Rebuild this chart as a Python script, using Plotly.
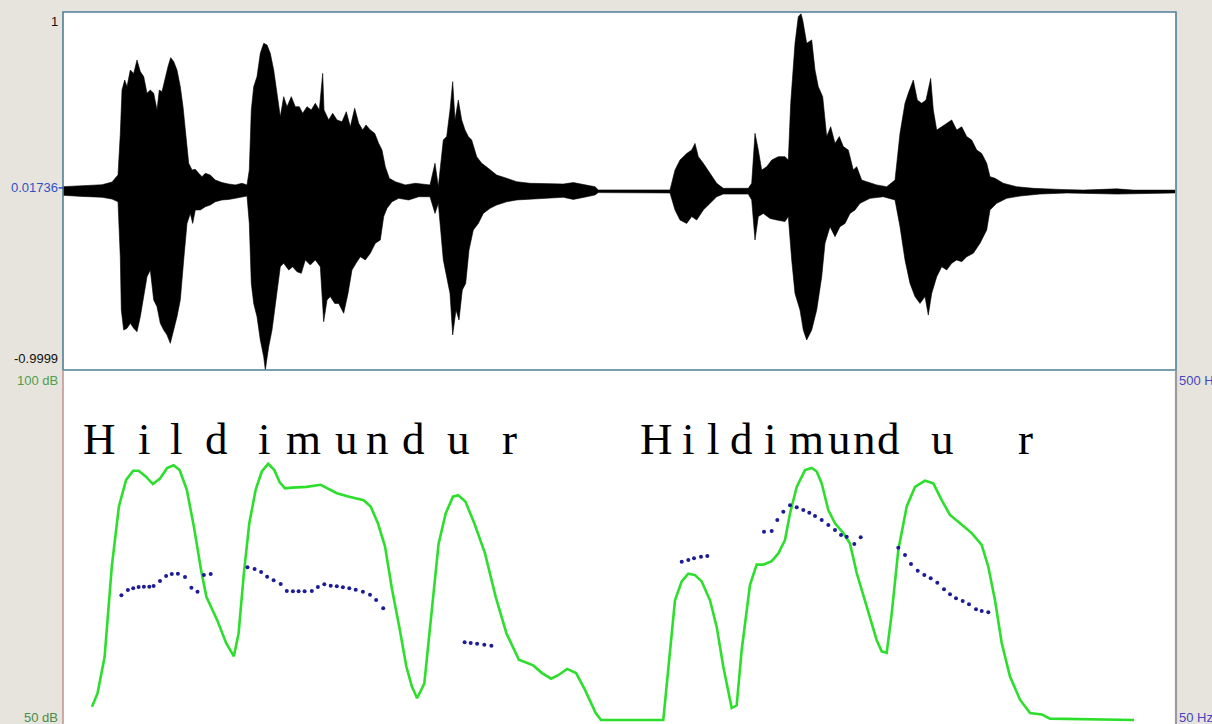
import plotly.graph_objects as go

# ---------------------------------------------------------------------------
# Waveform envelope (time in ms, amplitude in the displayed -0.9999 .. 1 range)
# ---------------------------------------------------------------------------
wave_up_t = [0, 20, 40, 50, 56, 58.3, 60, 62.7, 65, 68.3, 71.7, 75, 78.3, 81.7, 85, 88.3,
             91.7, 95, 97.3, 100, 103.3, 106, 108.7, 111.7, 115, 118.3, 121, 124, 126.7,
             130, 133.3, 136.7, 140, 143.3, 148.3, 153.3, 160, 166.7, 173.3, 180, 185,
             187.3, 189.3, 191.7, 195, 198.3, 201.7, 205, 208.3, 211.7, 215, 218.3, 221.7,
             225, 229.3, 233.3, 237.3, 240.7, 245, 249.3, 253.3, 257.3, 260.7, 262, 266.7,
             270.7, 275, 280, 284.3, 288.3, 292.7, 296.7, 300.7, 304, 308.3, 312.7, 316.7,
             320, 323.3, 327.3, 333.3, 343.3, 353.3, 363.3, 368, 373, 376.3, 381.3, 384.7,
             388, 390.7, 393, 396.3, 399.7, 403, 406.3, 409.7, 414.7, 419.7, 426.3, 434.7,
             444.7, 454.7, 468, 484.7, 501.3, 511.3, 524.7, 533, 536.3, 608, 613, 618,
             624.7, 629.7, 633, 636.3, 641.3, 648, 654.7, 661.3, 686.3, 689.7, 693, 696.3,
             699.7, 704.7, 709.7, 716.3, 723, 726.3, 728.7, 733, 736.3, 739, 740.7, 744.7,
             749.7, 753, 756.3, 760.7, 764.7, 768.7, 773, 777.3, 781.3, 786.3, 791.3, 794.7,
             799.7, 804.7, 814.7, 824.7, 833, 838, 843, 846.3, 851.3, 855.3, 859.7, 864,
             868.7, 871.3, 874.7, 879.7, 884.7, 889.7, 894.7, 899.7, 904.7, 909.7, 914.7,
             919.7, 924.7, 928, 933, 941.3, 954.7, 971.3, 998, 1021.3, 1054.7, 1071.3, 1113]
wave_up_a = [0.024, 0.030, 0.035, 0.050, 0.090, 0.320, 0.564, 0.620, 0.583, 0.676, 0.657,
             0.732, 0.667, 0.639, 0.546, 0.564, 0.546, 0.452, 0.564, 0.555, 0.639, 0.695,
             0.745, 0.723, 0.676, 0.583, 0.471, 0.304, 0.155, 0.117, 0.121, 0.099, 0.080,
             0.099, 0.089, 0.061, 0.047, 0.039, 0.034, 0.043, 0.034, 0.117, 0.453, 0.583,
             0.639, 0.769, 0.825, 0.816, 0.769, 0.676, 0.546, 0.415, 0.527, 0.471, 0.527,
             0.471, 0.471, 0.434, 0.471, 0.453, 0.490, 0.453, 0.657, 0.453, 0.397, 0.434,
             0.397, 0.387, 0.443, 0.359, 0.462, 0.378, 0.341, 0.369, 0.341, 0.322, 0.266,
             0.229, 0.136, 0.071, 0.052, 0.034, 0.043, 0.034, 0.034, 0.155, 0.024, 0.285,
             0.304, 0.453, 0.611, 0.397, 0.508, 0.397, 0.341, 0.304, 0.285, 0.192, 0.155,
             0.127, 0.089, 0.071, 0.052, 0.043, 0.043, 0.039, 0.047, 0.034, 0.024, 0.006,
             0.006, 0.117, 0.173, 0.210, 0.229, 0.266, 0.192, 0.155, 0.099, 0.043, 0.015,
             0.015, 0.043, 0.322, 0.229, 0.117, 0.136, 0.173, 0.192, 0.192, 0.173, 0.490,
             0.825, 0.974, 0.990, 0.955, 0.825, 0.844, 0.676, 0.583, 0.527, 0.304, 0.359,
             0.266, 0.304, 0.248, 0.229, 0.117, 0.136, 0.061, 0.052, 0.034, 0.024, 0.061,
             0.322, 0.490, 0.546, 0.620, 0.508, 0.490, 0.508, 0.629, 0.453, 0.341, 0.359,
             0.378, 0.397, 0.341, 0.359, 0.304, 0.285, 0.229, 0.210, 0.155, 0.080, 0.071,
             0.043, 0.024, 0.015, 0.009, 0.005, 0.012, 0.005, 0.005]

wave_lo_t = [0, 20, 40, 50, 56, 58.3, 59.3, 61.7, 65, 68.3, 71.7, 75, 78.3, 81.7, 85, 88.3,
             91.7, 95, 98.3, 101.7, 105, 108.3, 111.7, 115, 118.3, 121.7, 125, 128.3, 130.7,
             133.3, 138.3, 143.3, 148.3, 153.3, 160, 166.7, 173.3, 180, 185, 187.3, 189.3,
             191.7, 195, 198.3, 201.7, 203.3, 206.7, 210, 213.3, 218.3, 221.7, 226.7, 230.7,
             235, 239.3, 243.3, 248.3, 253.3, 258.3, 261.7, 265, 268.3, 272.7, 276.7, 281.7,
             286, 290, 294, 298.3, 303.3, 308.3, 313.3, 318.3, 321.7, 325, 330, 336.7, 346.7,
             356.7, 368, 373, 376.3, 381.3, 384.7, 388, 390.7, 394, 397, 400.3, 403.7, 407,
             411.3, 416.3, 421.3, 428, 434.7, 444.7, 454.7, 468, 484.7, 501.3, 511.3, 524.7,
             533, 536.3, 608, 613, 618, 624.7, 629.7, 634.7, 641.3, 648, 654.7, 661.3, 686.3,
             689.7, 693, 696.3, 701.3, 708, 714.7, 723, 726.3, 729.7, 733, 738, 741.3, 744.7,
             749.7, 754.7, 759.7, 763, 768, 773, 778, 783, 788, 793, 798, 808, 821.3, 833,
             838, 843, 848, 853, 858, 863, 866.3, 869.7, 874.7, 879.7, 884.7, 889.7, 894.7,
             899.7, 904.7, 911.3, 918, 924.7, 928, 934.7, 944.7, 958, 978, 1004.7, 1054.7,
             1113]
wave_lo_a = [-0.024, -0.030, -0.035, -0.045, -0.060, -0.370, -0.665, -0.777, -0.767, -0.739,
             -0.767, -0.786, -0.702, -0.590, -0.479, -0.441, -0.609, -0.646, -0.739, -0.777,
             -0.804, -0.851, -0.777, -0.702, -0.609, -0.385, -0.181, -0.125, -0.181, -0.106,
             -0.106, -0.088, -0.078, -0.060, -0.050, -0.047, -0.041, -0.035, -0.028, -0.181,
             -0.516, -0.628, -0.702, -0.832, -0.926, -0.9999, -0.870, -0.777, -0.628, -0.423,
             -0.404, -0.441, -0.423, -0.451, -0.460, -0.385, -0.413, -0.385, -0.423, -0.730,
             -0.609, -0.590, -0.628, -0.628, -0.683, -0.572, -0.441, -0.404, -0.367, -0.385,
             -0.348, -0.292, -0.274, -0.143, -0.097, -0.060, -0.041, -0.050, -0.032, -0.032,
             -0.125, -0.069, -0.385, -0.479, -0.572, -0.804, -0.665, -0.721, -0.553, -0.516,
             -0.330, -0.218, -0.181, -0.125, -0.097, -0.078, -0.060, -0.050, -0.047, -0.041,
             -0.035, -0.047, -0.032, -0.022, -0.009, -0.011, -0.106, -0.162, -0.181, -0.143,
             -0.162, -0.106, -0.069, -0.032, -0.017, -0.017, -0.050, -0.274, -0.143, -0.125,
             -0.153, -0.162, -0.171, -0.143, -0.385, -0.572, -0.665, -0.777, -0.832, -0.777,
             -0.665, -0.479, -0.292, -0.199, -0.255, -0.199, -0.181, -0.125, -0.106, -0.069,
             -0.041, -0.032, -0.050, -0.199, -0.385, -0.516, -0.590, -0.628, -0.590, -0.693,
             -0.572, -0.479, -0.423, -0.441, -0.404, -0.385, -0.395, -0.367, -0.348, -0.292,
             -0.218, -0.106, -0.069, -0.041, -0.028, -0.017, -0.011, -0.017, -0.011]

# ---------------------------------------------------------------------------
# Intensity contour (dB)
# ---------------------------------------------------------------------------
intensity_t = [30, 35.5, 42.6, 49.8, 56.9, 64.1, 71.2, 76.6, 83.7, 90.9, 98, 105.1, 111.6,
               117.6, 124.8, 131.9, 139.1, 144.4, 155.1, 164.1, 171.9, 176.6, 181.9, 187.3,
               193.7, 199.8, 206.2, 212.3, 217.6, 223, 230.1, 244.4, 258.7, 265.9, 274.8,
               287.3, 301.6, 308.7, 315.9, 323, 330.1, 337.3, 344.4, 349.8, 355.1, 362.3,
               369.4, 376.6, 383.7, 390.9, 396.2, 403.4, 412.3, 423, 433.7, 444.4, 456.9,
               471.2, 480.1, 489.1, 496.2, 505.1, 514.1, 523, 533.7, 539, 601.3, 608, 613,
               619.7, 626.3, 633, 639.7, 648, 654.7, 661.3, 669.7, 674.7, 679.7, 688, 694.7,
               701.3, 709.7, 716.3, 723, 728, 734.7, 743, 749.7, 754.7, 759.7, 766.3, 773,
               781.3, 788, 794.7, 804.7, 814.7, 819.7, 824.7, 829.7, 836.3, 844.7, 853, 863,
               871.3, 879.7, 888, 898, 909.7, 919.7, 926.3, 933, 939.7, 948, 958, 968, 979.7,
               988, 1072]
intensity_db = [51.9, 53.8, 59.0, 71.9, 80.5, 84.3, 85.6, 85.6, 84.8, 83.7, 84.5, 86.0, 86.4,
                85.7, 82.9, 77.6, 71.4, 67.6, 64.3, 61.0, 59.1, 62.4, 71.0, 78.1, 82.9, 85.5,
                86.6, 85.7, 84.0, 83.1, 83.2, 83.3, 83.6, 83.1, 82.4, 81.9, 81.4, 80.5, 78.1,
                74.8, 68.6, 63.3, 57.6, 54.8, 53.1, 55.2, 64.8, 75.2, 79.5, 81.9, 82.1, 81.2,
                78.1, 73.8, 67.6, 62.4, 58.6, 57.8, 56.7, 55.9, 56.4, 57.3, 56.7, 54.3, 51.0,
                50.0, 50.0, 60.0, 67.1, 69.8, 70.9, 70.7, 69.8, 67.1, 63.3, 57.6, 51.7, 52.1,
                60.0, 69.3, 72.2, 72.2, 72.7, 73.8, 75.7, 79.5, 83.3, 85.7, 86.0, 85.5, 83.8,
                80.0, 78.1, 76.7, 75.2, 71.0, 66.2, 61.4, 59.8, 59.6, 65.2, 74.3, 80.5, 83.3,
                84.2, 83.8, 81.4, 79.3, 78.1, 76.7, 75.0, 71.9, 67.1, 61.0, 56.2, 52.9, 51.0,
                50.8, 50.2, 50.0]

# ---------------------------------------------------------------------------
# Pitch track (Hz)
# ---------------------------------------------------------------------------
pitch_t = [59.4, 65.9, 71.2, 76.6, 81.9, 87.3, 91.6, 98, 104.1, 109.8, 115.9, 123, 129.4,
           135.5, 141.9, 148.7,
           185.5, 192.6, 199.1, 205.1, 211.6, 218.7, 224.8, 230.9, 236.6, 242.6, 249.8,
           255.9, 262.3, 268.7, 274.8, 280.9, 287.3, 293.7, 300.9, 308, 314.1, 321.2,
           402.6, 408.7, 415.1, 422.3, 429.4,
           619.7, 626.3, 632, 639, 645.3,
           702, 709.7, 715.3, 721.3, 728, 734.7, 741.3, 747.3, 753, 759.7, 766.3, 773, 779,
           784.7, 792.3, 798.7,
           836.3, 843, 849, 855.7, 862.3, 868.7, 875.3, 882, 888, 894, 900.7, 907, 914,
           919.7, 926.3]
pitch_hz = [210.3, 217.1, 219.3, 221.0, 221.4, 221.4, 222.3, 228.7, 235.1, 237.7, 238.1,
            233.9, 220.1, 215.0, 236.4, 237.7,
            246.3, 244.1, 240.3, 234.2, 229.6, 224.9, 215.9, 215.5, 215.5, 215.5, 215.9,
            221.0, 224.5, 222.7, 221.9, 220.6, 219.3, 217.5, 215.0, 211.1, 204.3, 193.6,
            149.9, 149.0, 148.1, 146.8, 145.5,
            253.5, 255.7, 257.9, 259.9, 260.9,
            292.1, 293.0, 307.1, 317.8, 326.0, 323.5, 320.0, 316.5, 312.3, 307.1, 300.7,
            294.3, 287.9, 285.7, 276.3, 284.9,
            271.5, 262.1, 250.6, 242.0, 236.4, 232.2, 226.5, 218.0, 211.6, 206.4, 203.0,
            198.8, 192.3, 190.1, 188.4]

# ---------------------------------------------------------------------------
# Segment labels (centre time in ms)
# ---------------------------------------------------------------------------
segment_t = [37, 82, 114, 154, 202, 241, 284, 315, 351, 396, 447,
             594, 626, 651, 679, 708, 744, 777, 802, 826, 880, 963]
segment_txt = ["H", "i", "l", "d", "i", "m", "u", "n", "d", "u", "r",
               "H", "i", "l", "d", "i", "m", "u", "n", "d", "u", "r"]

# ---------------------------------------------------------------------------
# Display ranges
# ---------------------------------------------------------------------------
T_RANGE = [1, 1114]
AMP_RANGE = [-0.9999, 1]
DB_MIN, DB_MAX = 50, 100
HZ_MIN, HZ_MAX = 50, 500
AMP_MARK = 0.01736

W, H = 1212, 724
M_L, M_R, M_T, M_B = 63, 36, 12, 0
plot_h = H - M_T - M_B
split = (H - 370) / plot_h           # boundary between the two panels
lower_px = 350                        # pixel height from 100 dB down to 50 dB
pad_px = (H - 370) - lower_px         # extra white below the 50 dB line
db_lo = DB_MIN - pad_px * (DB_MAX - DB_MIN) / lower_px
hz_lo = HZ_MIN - pad_px * (HZ_MAX - HZ_MIN) / lower_px

fig = go.Figure()

# waveform as a filled envelope
fig.add_trace(go.Scatter(
    x=wave_up_t + wave_lo_t[::-1],
    y=wave_up_a + wave_lo_a[::-1],
    mode="lines", fill="toself", fillcolor="black",
    line=dict(color="black", width=0.6),
    xaxis="x", yaxis="y", hoverinfo="skip"))

# intensity
fig.add_trace(go.Scatter(
    x=intensity_t, y=intensity_db, mode="lines",
    line=dict(color="rgb(45,222,45)", width=2.6),
    xaxis="x2", yaxis="y2", hoverinfo="skip"))

# pitch
fig.add_trace(go.Scatter(
    x=pitch_t, y=pitch_hz, mode="markers",
    marker=dict(color="#1c1c96", size=4),
    xaxis="x2", yaxis="y3", hoverinfo="skip"))

hidden = dict(visible=False, showgrid=False, zeroline=False, fixedrange=True)
fig.update_layout(
    width=W, height=H,
    margin=dict(l=M_L, r=M_R, t=M_T, b=M_B, pad=0),
    paper_bgcolor="#e6e4dc", plot_bgcolor="white",
    showlegend=False,
    xaxis=dict(domain=[0, 1], range=T_RANGE, anchor="y", **hidden),
    yaxis=dict(domain=[split, 1], range=AMP_RANGE, anchor="x", **hidden),
    xaxis2=dict(domain=[0, 1], range=T_RANGE, anchor="y2", **hidden),
    yaxis2=dict(domain=[0, split], range=[db_lo, DB_MAX], anchor="x2", **hidden),
    yaxis3=dict(range=[hz_lo, HZ_MAX], overlaying="y2", anchor="x2", **hidden),
)

# panel frames
frame_blue = "#4f7f98"
fig.add_shape(type="rect", xref="paper", yref="paper", x0=0, x1=1, y0=split, y1=1,
              line=dict(color=frame_blue, width=1.6))
fig.add_shape(type="line", xref="paper", yref="paper", x0=0, x1=0, y0=0, y1=split,
              line=dict(color="#c49696", width=1.6))
fig.add_shape(type="line", xref="paper", yref="paper", x0=1, x1=1, y0=0, y1=split,
              line=dict(color="#9c9c9c", width=2.2))
fig.add_shape(type="line", xref="paper", yref="y", x0=-0.004, x1=0, y0=AMP_MARK, y1=AMP_MARK,
              line=dict(color="#3050c0", width=1.5))

# axis value labels
sans = "Liberation Sans, Arial, sans-serif"
def side_label(text, yref, yval, color, left=True):
    fig.add_annotation(text=text, xref="paper", x=0 if left else 1,
                       xanchor="right" if left else "left",
                       xshift=-3 if left else 1,
                       yref=yref, y=yval, yanchor="middle", showarrow=False,
                       font=dict(family=sans, size=13, color=color))

side_label("1", "paper", (H - 22) / plot_h, "#111111")
side_label(f"{AMP_MARK}", "y", AMP_MARK, "#2f52c4")
side_label(f"{AMP_RANGE[0]}", "paper", (H - 358) / plot_h, "#111111")
side_label(f"{DB_MAX} dB", "paper", (H - 380.5) / plot_h, "#4f9f4f")
side_label(f"{DB_MIN} dB", "paper", (H - 717) / plot_h, "#4a8c4a")
side_label(f"{HZ_MAX} Hz", "paper", (H - 380.5) / plot_h, "#4646c0", left=False)
side_label(f"{HZ_MIN} Hz", "paper", (H - 717) / plot_h, "#4646c0", left=False)

# segment letters
LETTER_DB = 86.3
for t, s in zip(segment_t, segment_txt):
    fig.add_annotation(text=s, x=t, y=LETTER_DB, xref="x2", yref="y2",
                       xanchor="center", yanchor="bottom", showarrow=False,
                       font=dict(family="Liberation Serif, Times New Roman, serif",
                                 size=45, color="black"))

fig.write_html("out.html")
